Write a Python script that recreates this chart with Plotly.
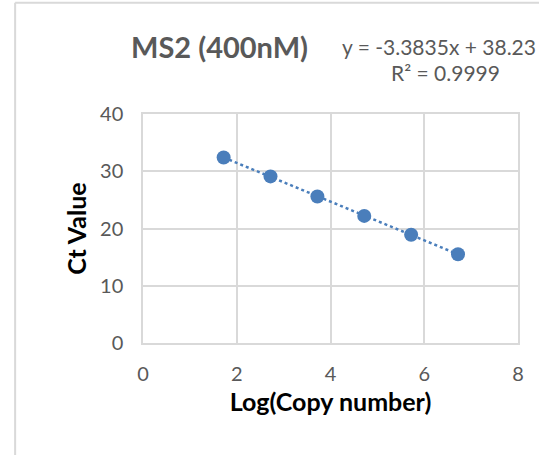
import plotly.graph_objects as go

# Standard curve data: log10 copy number vs. Ct
log_copy = [1.72, 2.72, 3.72, 4.72, 5.72, 6.72]
ct_value = [32.4, 29.1, 25.6, 22.2, 18.9, 15.5]

# Linear fit reported on the chart
slope = -3.3835
intercept = 38.23
r_squared = 0.9999

x_ticks = [0, 2, 4, 6, 8]
y_ticks = [0, 10, 20, 30, 40]

blue = "#4a7ebb"
grid = "#d9d9d9"
tick_gray = "#595959"
font_family = "Lato, 'Open Sans', sans-serif"

fit_x = [min(log_copy), max(log_copy)]
fit_y = [slope * v + intercept for v in fit_x]

fig = go.Figure()
fig.add_trace(go.Scatter(
    x=fit_x, y=fit_y, mode="lines",
    line=dict(color=blue, width=2.5, dash="dot"),
    hoverinfo="skip", showlegend=False,
))
fig.add_trace(go.Scatter(
    x=log_copy, y=ct_value, mode="markers",
    marker=dict(color=blue, size=14),
    showlegend=False,
))

fig.update_layout(
    width=539, height=455,
    margin=dict(l=143, r=21, t=114, b=112),
    paper_bgcolor="white", plot_bgcolor="white",
    font=dict(family=font_family, color=tick_gray),
    xaxis=dict(
        range=[0, 8], tickvals=x_ticks, showgrid=True, gridcolor=grid, gridwidth=1.5,
        zeroline=False, showline=True, linecolor=grid, linewidth=1.5, mirror=True,
        tickfont=dict(size=20, color=tick_gray),
        ticks="outside", ticklen=12, tickcolor="rgba(0,0,0,0)",
        title=dict(text="<b>Log(Copy number)</b>", font=dict(size=25, color="black"), standoff=10),
    ),
    yaxis=dict(
        range=[0, 40], tickvals=y_ticks, showgrid=True, gridcolor=grid, gridwidth=1.5,
        zeroline=False, showline=True, linecolor=grid, linewidth=1.5, mirror=True,
        tickfont=dict(size=20, color=tick_gray),
        ticks="outside", ticklen=14, tickcolor="rgba(0,0,0,0)",
        title=dict(text="<b>Ct Value</b>", font=dict(size=25, color="black"), standoff=6),
    ),
    annotations=[
        dict(text="<b>MS2 (400nM)</b>", x=0.205, y=1.294, xref="paper", yref="paper",
             xanchor="center", yanchor="middle", showarrow=False,
             font=dict(size=29, color=tick_gray, family=font_family)),
        dict(text=f"y = {slope}x + {intercept}", x=0.788, y=1.294, xref="paper", yref="paper",
             xanchor="center", yanchor="middle", showarrow=False,
             font=dict(size=21, color=tick_gray, family=font_family)),
        dict(text=f"R² = {r_squared}", x=0.807, y=1.18, xref="paper", yref="paper",
             xanchor="center", yanchor="middle", showarrow=False,
             font=dict(size=21, color=tick_gray, family=font_family)),
    ],
    shapes=[
        dict(type="line", xref="paper", yref="paper", x0=-0.341, x1=-0.341, y0=1.486, y1=-0.6,
             line=dict(color=grid, width=2)),
        dict(type="line", xref="paper", yref="paper", x0=-0.341, x1=1.1, y0=1.486, y1=1.486,
             line=dict(color=grid, width=2)),
    ],
)

fig.write_html("out.html")
